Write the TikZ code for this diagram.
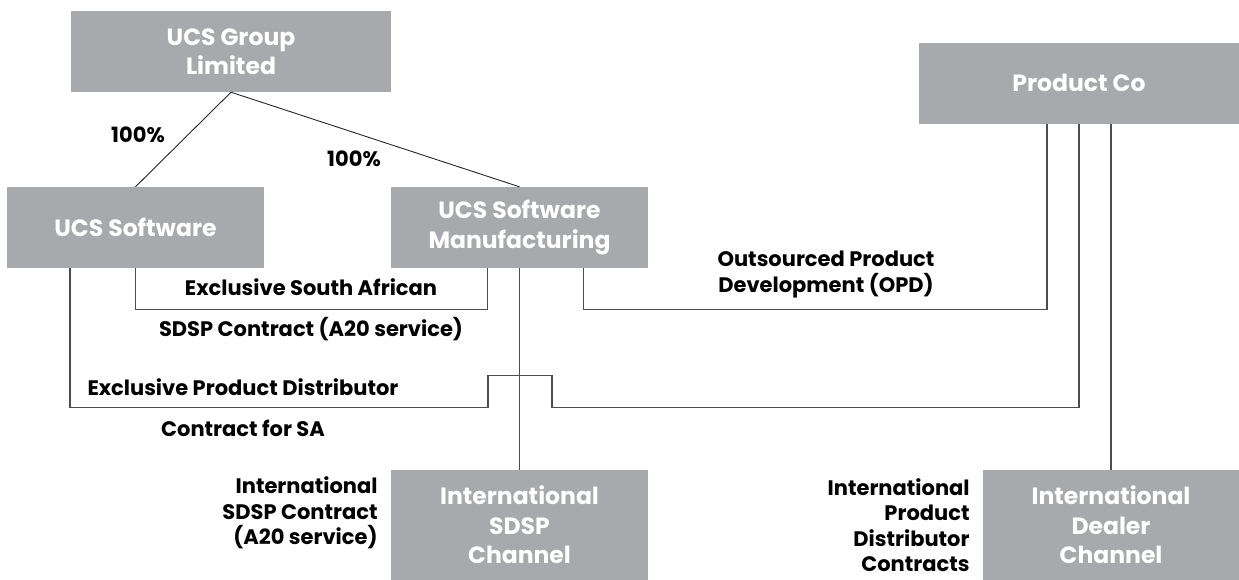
\documentclass[tikz,border=0pt]{standalone}
\usepackage{fontspec}
\setmainfont{Poppins}
\usetikzlibrary{positioning}
\definecolor{boxgray}{HTML}{A7A9AC}
\definecolor{linegray}{HTML}{4D4D4F}

\begin{document}
\begin{tikzpicture}[
    x=1pt, y=-1pt,
    entity/.style={rectangle, fill=boxgray, text=white, align=center, inner sep=0pt, minimum height=81pt, font=\bfseries\fontsize{23.5}{29.5}\selectfont},
    lbl/.style={inner sep=0pt, font=\bfseries\fontsize{21}{25.5}\selectfont},
    link/.style={draw=linegray, line width=1.3pt},
    own/.style={draw=black!85, line width=0.9pt}
]
\useasboundingbox (0,0) rectangle (1239,579);

    \node [entity, minimum width=320pt] (group) at (231,51.5) {UCS Group\\Limited};
    \node [entity, minimum width=257pt] (soft) at (135.5,227.5) {UCS Software};
    \node [entity, minimum width=257pt] (mfg) at (519.5,227.5) {UCS Software\\Manufacturing};
    \node [entity, minimum width=320pt] (prod) at (1079,83) {Product Co};
    \node [entity, minimum width=257pt, minimum height=110pt] (sdsp) at (519.5,525) {International\\SDSP\\Channel};
    \node [entity, minimum width=256pt, minimum height=110pt] (dealer) at (1111,525) {International\\Dealer\\Channel};

    % shareholdings
    \draw [own] (group.south) -- (soft.north);
    \draw [own] (group.south) -- (mfg.north);
    \node [lbl] (pctsoft) at (138,135) {100\%};
    \node [lbl] (pctmfg) at (354,159) {100\%};

    % contracts
    \draw [link] (soft.south) -- ++(0,41) -| ([xshift=-32pt]mfg.south);
    \node [lbl] (sdspsa) at (311,287) {Exclusive South African};
    \node [lbl] (sdspsb) at (311,329) {SDSP Contract (A20 service)};

    \draw [link] ([xshift=-65.5pt]soft.south) -- ++(0,139) -- ++(418,0) -- ++(0,-32) -- ++(64,0) -- ++(0,32) -| (prod.south);
    \node [lbl] (distsa) at (243,387) {Exclusive Product Distributor};
    \node [lbl] (distsb) at (243,428) {Contract for SA};

    \draw [link] ([xshift=64pt]mfg.south) -- ++(0,41) -| ([xshift=-32pt]prod.south);
    \node [lbl, align=center] (opd) at (826,274.5) {Outsourced Product\\Development (OPD)};

    \draw [link] (mfg.south) -- (sdsp.north);
    \node [lbl, align=right, left=13pt of sdsp, yshift=12pt] (sdspterms) {International\\SDSP Contract\\(A20 service)};

    \draw [link] (dealer.north) -- (dealer.north |- prod.south);
    \node [lbl, align=right, left=13pt of dealer] (dealerterms) {International\\Product\\Distributor\\Contracts};

\end{tikzpicture}
\end{document}
